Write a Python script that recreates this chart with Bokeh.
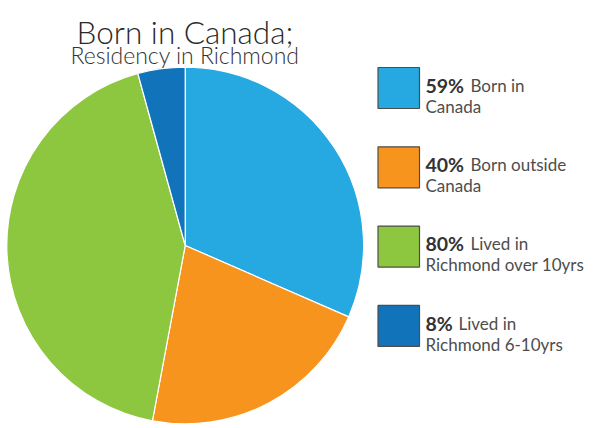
from math import pi
from bokeh.plotting import figure
from bokeh.models import Range1d, ColumnDataSource
from bokeh.core.properties import value
from bokeh.embed import file_html
from bokeh.resources import INLINE

# ---- data ----
title = "Born in Canada;"
subtitle = "Residency in Richmond"
categories = ["Born in Canada", "Born outside Canada", "Lived in Richmond over 10yrs", "Lived in Richmond 6-10yrs"]
values = [59, 40, 80, 8]
pct_labels = ["59%", "40%", "80%", "8%"]
line1_labels = ["Born in", "Born outside", "Lived in", "Lived in"]
line2_labels = ["Canada", "Canada", "Richmond over 10yrs", "Richmond 6-10yrs"]
colors = ["#25A9E0", "#F7941E", "#8DC63F", "#1174BB"]

# ---- layout (page pixel coordinates, y measured from top) ----
W, H = 586, 428
FONT_LIGHT = "Lato Light, Lato"
FONT = "Lato"
cx, cy_top, r = 184.7, 245.0, 178.4

def Y(py):
    return H - py

p = figure(width=W, height=H, output_backend="svg", toolbar_location=None,
           x_range=Range1d(0, W), y_range=Range1d(0, H),
           min_border=0, outline_line_color=None, background_fill_color="white")
p.xaxis.visible = False
p.yaxis.visible = False
p.grid.visible = False

total = float(sum(values))
starts, ends = [], []
cum = 0.0
for v in values:
    starts.append(pi / 2 - 2 * pi * cum / total)
    cum += v
    ends.append(pi / 2 - 2 * pi * cum / total)

src = ColumnDataSource(dict(x=[cx] * len(values), y=[Y(cy_top)] * len(values),
                            start=starts, end=ends, color=colors, cat=categories))
p.wedge(x="x", y="y", radius=r, start_angle="start", end_angle="end",
        direction="clock", fill_color="color", line_color="white", line_width=1.2,
        source=src)

# title
p.text(x=[184.5], y=[Y(31)], text=[title], text_font=value(FONT_LIGHT), text_font_size="31.5px",
       text_color="#2a2a2a", text_align="center", text_baseline="alphabetic")
p.text(x=[184.5], y=[Y(54.3)], text=[subtitle], text_font=value(FONT_LIGHT), text_font_size="23px",
       text_color="#333333", text_align="center", text_baseline="alphabetic")

# legend
box_tops = [67 + 79.3 * i for i in range(len(values))]
box_left, box_w, box_h = 377.5, 41.5, 41
text_x = 425
second_x = [470, 470, 470, 458]
for i in range(len(values)):
    top = Y(box_tops[i])
    p.quad(left=[box_left], right=[box_left + box_w], top=[top], bottom=[top - box_h],
           fill_color=colors[i], line_color="#4d4d4d", line_width=1.2)
    y1 = top - 17.8
    y2 = top - 38.6
    p.text(x=[text_x], y=[y1], text=[pct_labels[i]], text_font=value(FONT),
           text_font_size="19.5px", text_font_style="bold", text_color="#333333",
           text_baseline="alphabetic")
    p.text(x=[second_x[i]], y=[y1], text=[line1_labels[i]], text_font=value(FONT),
           text_font_size="17px", text_color="#4d4d4d", text_baseline="alphabetic")
    p.text(x=[text_x], y=[y2], text=[line2_labels[i]], text_font=value(FONT),
           text_font_size="17px", text_color="#4d4d4d", text_baseline="alphabetic")

open("out.html", "w").write(file_html(p, INLINE))
